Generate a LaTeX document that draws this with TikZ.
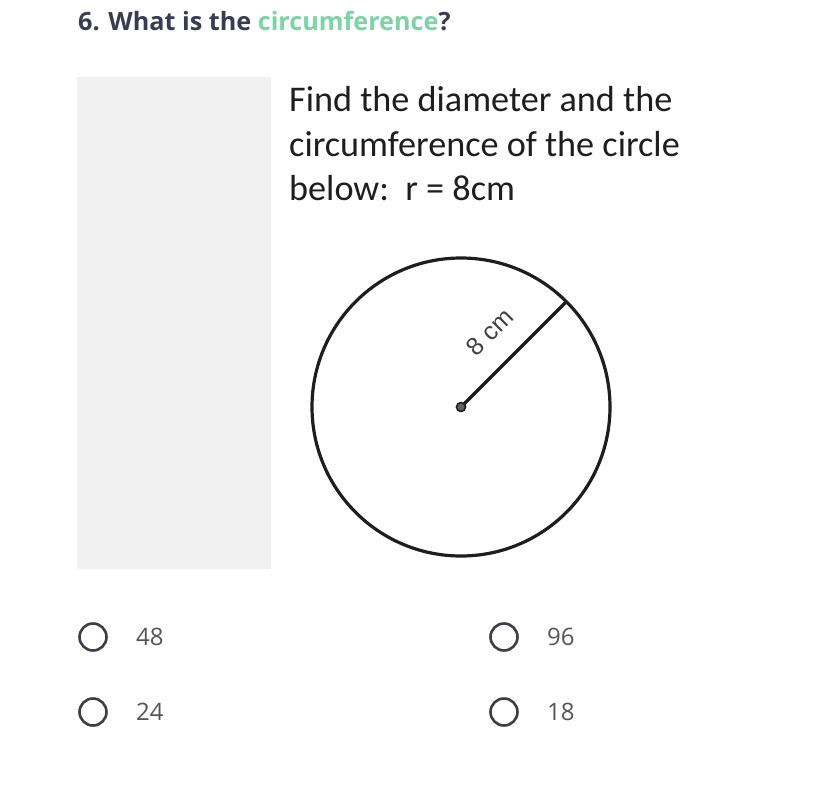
\documentclass[tikz,border=0pt]{standalone}
\usepackage{fontspec}
\usetikzlibrary{calc}
\setmainfont{Open Sans}
\newfontfamily\calib{Carlito}
\newfontfamily\arialf{Liberation Sans}
\definecolor{titlec}{HTML}{3A3B52}
\definecolor{greenc}{HTML}{7DD3A6}
\definecolor{optc}{HTML}{555555}
\definecolor{radioc}{HTML}{3C3C4A}
\definecolor{panelc}{HTML}{F1F1F1}
\definecolor{inkc}{HTML}{1E1E1E}
\begin{document}
\begin{tikzpicture}[x=1pt,y=-1pt,
  titletext/.style={anchor=base west,inner sep=0pt,font=\fontsize{25.2}{30}\selectfont\bfseries,text=titlec},
  probtext/.style={anchor=base west,inner sep=0pt,font=\calib\fontsize{36.2}{42}\selectfont,text=inkc},
  radio/.style={circle,draw=radioc,line width=2.6pt,minimum size=27pt,inner sep=0pt},
  opttext/.style={anchor=west,inner sep=0pt,font=\fontsize{24}{28}\selectfont,text=optc}]
\useasboundingbox (0,0) rectangle (828,806);
\fill[white] (0,0) rectangle (828,806);
% title
\node[titletext] (title) at (78,30) {6. What is the \textcolor{greenc}{circumference}?};
% grey panel
\fill[panelc] (77,77) rectangle (271,569);
% problem text
\node[probtext] (l1) at (289,111) {Find the diameter and the};
\node[probtext] (l2) at (289,156) {circumference of the circle};
\node[probtext] (l3) at (289,200) {below:\ \ r = 8cm};
% circle
\coordinate (c) at (461,407);
\draw[inkc,line width=3.2pt] (c) circle[radius=149];
\coordinate (e) at ($(c)+(-45:149)$);
\draw[inkc,line width=3.2pt] (c) -- (e);
\node[circle,draw=inkc,fill=inkc!70,line width=1.6pt,minimum size=9pt,inner sep=0pt] (dot) at (c) {};
\node[rotate=45,font=\arialf\fontsize{25}{27}\selectfont,text=inkc!85,inner sep=0pt] (lab) at (490,332) {8 cm};
% options
\node[radio] (r1) at (93,637) {};
\node[opttext] (t1) at (136,637) {48};
\node[radio] (r2) at (504,637) {};
\node[opttext] (t2) at (547,637) {96};
\node[radio] (r3) at (93,712) {};
\node[opttext] (t3) at (136,712) {24};
\node[radio] (r4) at (504,712) {};
\node[opttext] (t4) at (547,712) {18};
\end{tikzpicture}
\end{document}
